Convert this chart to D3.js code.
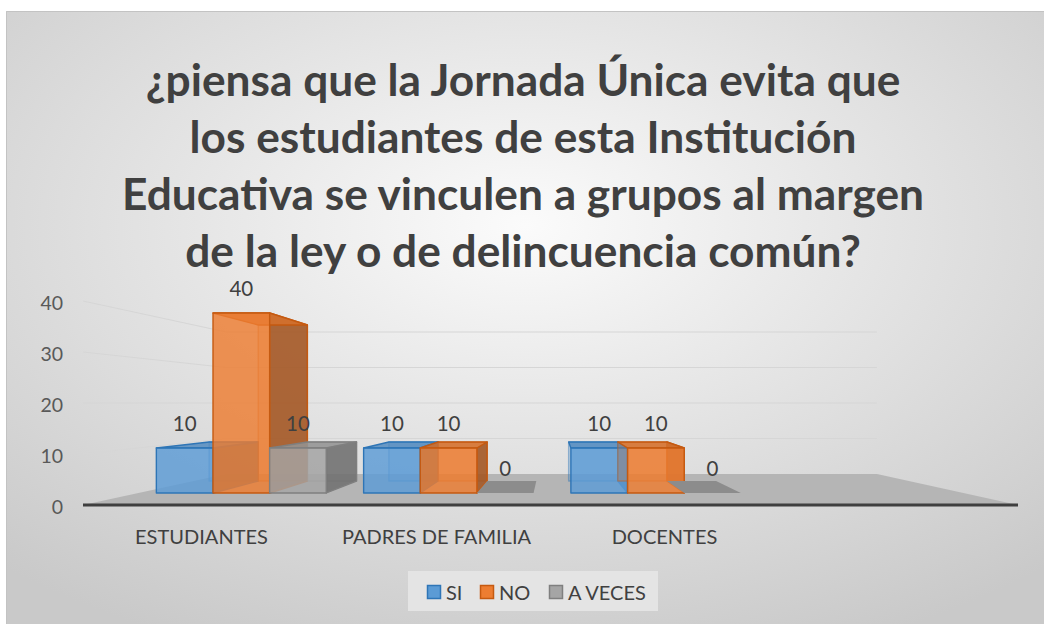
<!DOCTYPE html>
<html><head><meta charset="utf-8">
<script src="https://cdn.jsdelivr.net/npm/d3@7"></script>
<style>body{margin:0;background:#fff;} svg{display:block}</style>
</head><body>
<svg id="c" width="1044" height="624"></svg>
<script>
const categories = ["ESTUDIANTES", "PADRES DE FAMILIA", "DOCENTES"];
const seriesNames = ["SI", "NO", "A VECES"];
const SI = [10, 10, 10];
const NO = [40, 10, 10];
const A_VECES = [10, 0, 0];
const yTicks = [0, 10, 20, 30, 40];
const titleLines = [
  "¿piensa que la Jornada Única evita que",
  "los estudiantes de esta Institución",
  "Educativa se vinculen a grupos al margen",
  "de la ley o de delincuencia común?"
];
const seriesValues = [SI, NO, A_VECES];
const colors = ["#5b9bd5", "#ed7d31", "#a5a5a5"];
const strokes = ["#2e75b6", "#c55a11", "#7f7f7f"];
const FONT = "Lato, 'Open Sans', sans-serif";

const svg = d3.select("#c");
const defs = svg.append("defs");
const rg = defs.append("radialGradient").attr("id", "bg")
  .attr("cx", "50%").attr("cy", "35%").attr("r", "75%");
rg.append("stop").attr("offset", "0%").attr("stop-color", "#fbfbfb");
rg.append("stop").attr("offset", "100%").attr("stop-color", "#c9c9c9");

svg.append("rect").attr("x", 6).attr("y", 11).attr("width", 1038).attr("height", 613)
  .attr("fill", "url(#bg)");
svg.append("path").attr("d", "M6.5,624 V11.5 H1044").attr("fill", "none")
  .attr("stroke", "#c3c3c3").attr("stroke-width", 1);

// title
const tl = svg.append("g").selectAll("text").data(titleLines).join("text")
  .attr("x", 523).attr("text-anchor", "middle")
  .attr("font-family", FONT).attr("font-weight", "bold").attr("font-size", 40)
  .attr("fill", "#404040").text(d => d);
const w3 = tl.nodes()[2].getComputedTextLength();
tl.attr("font-size", 40 * 802 / w3).attr("y", (d, i) => 78 + i * 57.3).attr("dominant-baseline", "central");

// projection
const V = [554, 403];
const S_BACK = 0.696, S_BAR_FRONT = 0.882, S_BAR_BACK = 0.765;
function P(X, Y, s) { return [V[0] + (X - V[0]) * s, V[1] + (Y - V[1]) * s]; }

const x = d3.scaleBand().domain(categories).range([82, 787]).paddingInner(0.18).paddingOuter(0.09);
const xs = d3.scaleBand().domain(seriesNames).range([0, x.bandwidth()]);
const y = d3.scaleLinear().domain([0, 40]).range([505, 301]);
const XL = 83, XR = 1018;

// gridlines (left wall + back wall)
const gl = svg.append("g");
yTicks.filter(v => v > 0).forEach(v => {
  const a = P(XL, y(v), 1), b = P(XL, y(v), S_BACK), c = P(XR, y(v), S_BACK);
  gl.append("path").attr("d", `M${a}L${b}L${c}`).attr("fill", "none")
    .attr("stroke", "#d6d6d6").attr("stroke-width", 1.2);
});

// floor
const fl = [P(XL, y(0), 1), P(XR, y(0), 1), P(XR, y(0), S_BACK), P(XL, y(0), S_BACK)];
svg.append("path").attr("d", "M" + fl.join("L") + "Z").attr("fill", "#b5b5b5");
svg.append("line").attr("x1", XL).attr("x2", XR).attr("y1", y(0)).attr("y2", y(0))
  .attr("stroke", "#3f3f3f").attr("stroke-width", 3);

// bars
const bars = svg.append("g");
const poly = pts => "M" + pts.join("L") + "Z";
const labels = [];
categories.forEach((cat, i) => {
  seriesNames.forEach((sn, j) => {
    const v = seriesValues[j][i];
    const X0 = x(cat) + xs(sn), X1 = X0 + xs.bandwidth();
    const Yb = y(0), Yt = y(v);
    const s0 = S_BAR_FRONT, s1 = S_BAR_BACK;
    const c = colors[j], st = strokes[j];
    const g = bars.append("g").attr("stroke", st).attr("stroke-width", 1.4).attr("stroke-linejoin", "round");
    const back = [P(X0, Yb, s1), P(X1, Yb, s1), P(X1, Yt, s1), P(X0, Yt, s1)];
    const front = [P(X0, Yb, s0), P(X1, Yb, s0), P(X1, Yt, s0), P(X0, Yt, s0)];
    const right = [P(X1, Yb, s0), P(X1, Yb, s1), P(X1, Yt, s1), P(X1, Yt, s0)];
    const top = [P(X0, Yt, s0), P(X1, Yt, s0), P(X1, Yt, s1), P(X0, Yt, s1)];
    if (v > 0) {
      g.append("path").attr("d", poly(back)).attr("fill", c).attr("fill-opacity", 0.25).attr("stroke-opacity", 0.45);
      g.append("path").attr("d", poly(right)).attr("fill", d3.color(c).darker(1.1)).attr("fill-opacity", 0.85);
      g.append("path").attr("d", poly(top)).attr("fill", d3.color(c).darker(0.3)).attr("fill-opacity", 0.85);
      g.append("path").attr("d", poly(front)).attr("fill", c).attr("fill-opacity", 0.82);
    } else {
      g.append("path").attr("d", poly(top)).attr("fill", "#8c8c8c").attr("stroke", "none");
    }
    const fx = (front[0][0] + front[1][0]) / 2;
    labels.push({ x: fx, y: front[2][1] - 25, t: String(v) });
  });
});

// value labels
svg.append("g").selectAll("text").data(labels).join("text")
  .attr("x", d => d.x).attr("y", d => d.y).attr("text-anchor", "middle")
  .attr("dominant-baseline", "central").attr("font-family", FONT).attr("font-size", 20.5)
  .attr("fill", "#404040").text(d => d.t);

// y tick labels
svg.append("g").selectAll("text").data(yTicks).join("text")
  .attr("x", 63).attr("y", d => y(d) + 1).attr("text-anchor", "end")
  .attr("dominant-baseline", "central").attr("font-family", FONT).attr("font-size", 19.5)
  .attr("fill", "#595959").text(d => d);

// category labels
const cl = svg.append("g").selectAll("text").data(categories).join("text")
  .attr("x", d => P(x(d) + x.bandwidth() / 2, y(0), 1)[0] + (d === "DOCENTES" ? -5 : 2))
  .attr("y", 536).attr("text-anchor", "middle").attr("dominant-baseline", "central")
  .attr("font-family", FONT).attr("font-size", 17).attr("fill", "#404040").text(d => d);
const cw = cl.nodes()[0].getComputedTextLength();
cl.attr("font-size", 17 * 133 / cw);

// legend
const lg = svg.append("g");
lg.append("rect").attr("x", 408).attr("y", 571).attr("width", 250).attr("height", 40).attr("fill", "#e4e4e4");
const lx = [427, 480, 549];
seriesNames.forEach((sn, j) => {
  lg.append("rect").attr("x", lx[j] + 0.5).attr("y", 585.5).attr("width", 13).attr("height", 13)
    .attr("fill", colors[j]).attr("stroke", strokes[j]).attr("stroke-width", 1.5);
  lg.append("text").attr("x", lx[j] + 19).attr("y", 592).attr("dominant-baseline", "central")
    .attr("font-family", FONT).attr("font-size", 20).attr("fill", "#404040").text(sn);
});
</script>
</body></html>
